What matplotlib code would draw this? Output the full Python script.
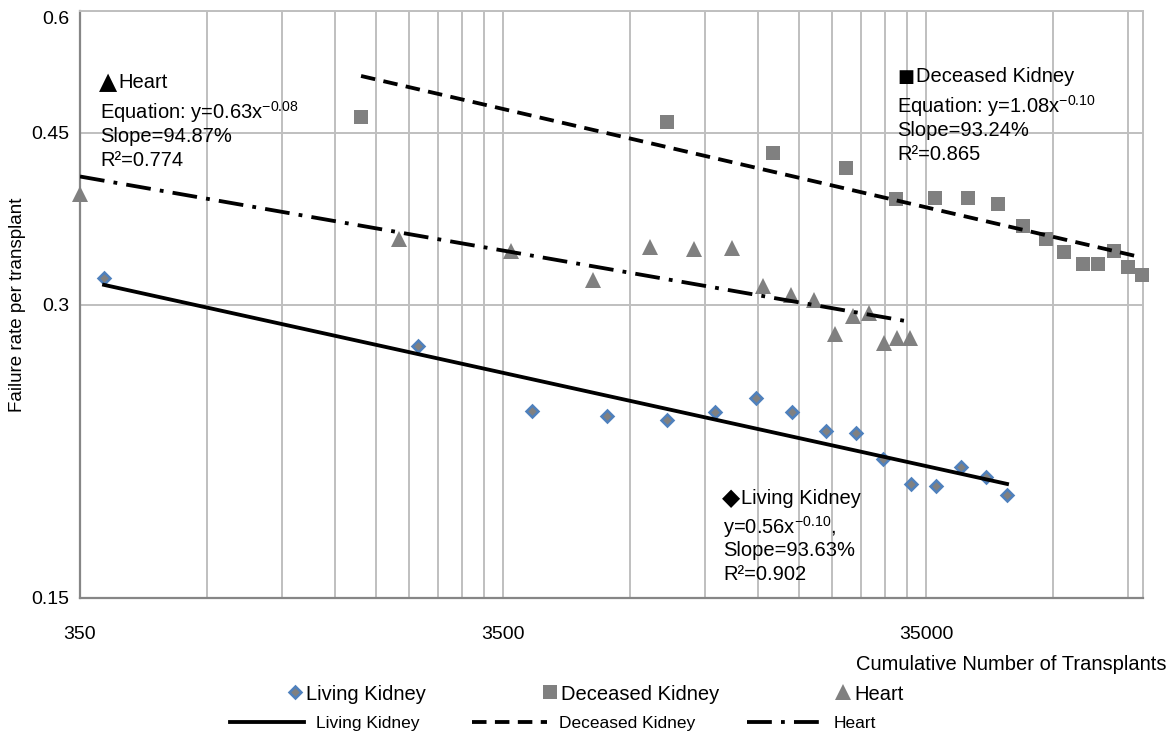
import numpy as np
import matplotlib
matplotlib.use("Agg")
from matplotlib import pyplot as plt
from matplotlib.ticker import FixedLocator, FixedFormatter, NullFormatter, NullLocator

plt.rcParams['font.family'] = ['Liberation Sans', 'DejaVu Sans']
plt.rcParams['mathtext.fontset'] = 'custom'
plt.rcParams['mathtext.rm'] = 'Liberation Sans'

# datos (numero acumulado de trasplantes, tasa de fallo)
living_x = [399, 2204, 4100, 6166, 8548, 11100, 13875, 16880, 20310, 23910,
            27700, 32260, 36960, 42340, 48520, 54390]
living_y = [0.319, 0.2718, 0.2332, 0.2305, 0.2283, 0.2326, 0.2404, 0.2326,
            0.2225, 0.2214, 0.2083, 0.1963, 0.1954, 0.2044, 0.1997, 0.1913]

deceased_x = [1616, 8548, 15220, 22650, 29730, 36760, 43990, 51800, 59360,
              67270, 74200, 82300, 89250, 97390, 105100, 113400]
deceased_y = [0.4675, 0.4621, 0.4295, 0.4145, 0.3853, 0.3862, 0.3862, 0.3808,
              0.3614, 0.3499, 0.3400, 0.3305, 0.3305, 0.3407, 0.3274, 0.3214]

heart_x = [350, 1987, 3656, 5713, 7793, 9899, 12175, 14410, 16790, 19030,
           21330, 23520, 25660, 27850, 29890, 32090]
heart_y = [0.3890, 0.3499, 0.3407, 0.3175, 0.3439, 0.3423, 0.3431, 0.3131,
           0.3065, 0.3030, 0.2796, 0.2917, 0.2938, 0.2738, 0.2770, 0.2770]

x_ticks = [350, 3500, 35000]
y_ticks = [0.15, 0.3, 0.45, 0.6]
y_labels = ["0.15", "0.3", "0.45", "0.6"]


def power_fit(x, y):
    # ajuste potencial y = a x^b (recta en log-log)
    b, loga = np.polyfit(np.log10(x), np.log10(y), 1)
    xs = np.geomspace(min(x), max(x), 200)
    return xs, 10 ** loga * xs ** b


W, H = 1175, 736
fig = plt.figure(figsize=(W / 100, H / 100), dpi=100)
ax = fig.add_axes([80 / W, 1 - 598 / H, (1143 - 80) / W, (598 - 11) / H])

ax.set_xscale('log')
ax.set_yscale('log')
ax.set_xlim(350, 114000)
ax.set_ylim(0.15, 0.6)

grid_c = '#BFBFBF'
minor = [k * 350 * 10 ** d for d in range(3) for k in range(2, 10) if k * 350 * 10 ** d < 114000]
ax.xaxis.set_major_locator(FixedLocator(x_ticks))
ax.xaxis.set_major_formatter(FixedFormatter([str(v) for v in x_ticks]))
ax.xaxis.set_minor_locator(FixedLocator(minor))
ax.xaxis.set_minor_formatter(NullFormatter())
ax.yaxis.set_major_locator(FixedLocator(y_ticks))
ax.yaxis.set_major_formatter(FixedFormatter(y_labels))
ax.yaxis.set_minor_locator(NullLocator())
ax.grid(True, which='both', axis='x', color=grid_c, lw=1.4)
ax.grid(True, which='major', axis='y', color=grid_c, lw=1.4)
ax.set_axisbelow(True)
ax.tick_params(which='both', length=0)
ax.tick_params(axis='x', pad=20, labelsize=14)
ax.tick_params(axis='y', pad=8, labelsize=14)
for s in ['left', 'bottom']:
    ax.spines[s].set_color('#868686')
    ax.spines[s].set_linewidth(1.6)
for s in ['top', 'right']:
    ax.spines[s].set_color(grid_c)
    ax.spines[s].set_linewidth(1.4)
ax.yaxis.get_major_ticks()[-1].label1.set_va('top')

# puntos
p1, = ax.plot(living_x, living_y, 'D', ms=6, mfc='#808080', mec='#4F81BD', mew=1.8,
              ls='none', zorder=3, clip_on=False, label='Living Kidney')
p2, = ax.plot(deceased_x, deceased_y, 's', ms=10.5, color='#808080', mew=0,
              ls='none', zorder=3, clip_on=False, label='Deceased Kidney')
p3, = ax.plot(heart_x, heart_y, '^', ms=11, color='#808080', mew=0,
              ls='none', zorder=3, clip_on=False, label='Heart')

# lineas de tendencia
xs, ys = power_fit(living_x, living_y)
l1, = ax.plot(xs, ys, color='black', lw=2.75, zorder=4, label='Living Kidney')
xs, ys = power_fit(deceased_x, deceased_y)
l2, = ax.plot(xs, ys, color='black', lw=2.75, ls=(0, (3.8, 2.2)), zorder=4, label='Deceased Kidney')
xs, ys = power_fit(heart_x, heart_y)
l3, = ax.plot(xs, ys, color='black', lw=2.75, ls=(0, (6.5, 2.4, 1, 2.4)), zorder=4, label='Heart')

fig.text(18 / W, 1 - 305 / H, 'Failure rate per transplant', fontsize=13.5,
         rotation=90, ha='center', va='center')
fig.text(1166 / W, 1 - 664 / H, 'Cumulative Number of Transplants', fontsize=14.5,
         ha='right', va='center')


def txt(x, y, s, **kw):
    fig.text(x / W, 1 - y / H, s, fontsize=14.5, va='center', ha='left', **kw)


def titulo(x, y, sym, s, size=17):
    fig.text(x / W, 1 - y / H, sym, fontsize=size, va='center', ha='left',
             family='DejaVu Sans')
    txt(x + 19, y, s)


sup = r'$^{\mathregular{%s}}$'
titulo(99, 82, '▲', 'Heart')
txt(100, 112, 'Equation: y=0.63x' + sup % '-0.08')
txt(100, 136, 'Slope=94.87%')
txt(100, 160, 'R²=0.774')

titulo(897, 77, '■', 'Deceased Kidney', size=13)
txt(897, 106, 'Equation: y=1.08x' + sup % '-0.10')
txt(897, 130, 'Slope=93.24%')
txt(897, 154, 'R²=0.865')

titulo(722, 498, '◆', 'Living Kidney')
txt(723, 527, 'y=0.56x' + sup % '-0.10' + ',')
txt(723, 551, 'Slope=93.63%')
txt(723, 575, 'R²=0.902')

fig.legend(handles=[p1, p2, p3], loc='center', bbox_to_anchor=(596 / W, 1 - 694 / H),
           ncol=3, frameon=False, fontsize=14.5, handlelength=0.7, handletextpad=0.2,
           columnspacing=5.8, borderpad=0, borderaxespad=0)
fig.legend(handles=[l1, l2, l3], loc='center', bbox_to_anchor=(553 / W, 1 - 723 / H),
           ncol=3, frameon=False, fontsize=12.5, handlelength=4.3, handletextpad=0.7,
           columnspacing=3.0, borderpad=0, borderaxespad=0)

fig.savefig('out.png', dpi=100)
